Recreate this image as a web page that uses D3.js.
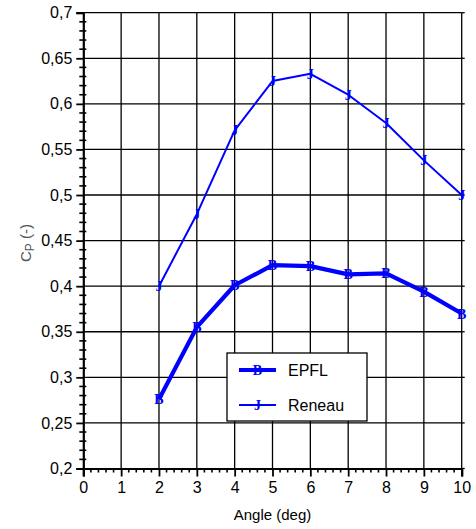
<!DOCTYPE html>
<html>
<head>
<meta charset="utf-8">
<script src="https://cdn.jsdelivr.net/npm/d3@7"></script>
<style>
  html, body { margin: 0; padding: 0; background: #fff; }
  svg { display: block; }
</style>
</head>
<body>
<svg id="chart" width="476" height="529"></svg>
<script>
// Power coefficient vs. blade angle for two test series
const angles = [2, 3, 4, 5, 6, 7, 8, 9, 10];
const epfl   = [0.276, 0.355, 0.401, 0.423, 0.422, 0.413, 0.414, 0.394, 0.370];
const reneau = [0.400, 0.479, 0.571, 0.625, 0.633, 0.610, 0.579, 0.538, 0.500];

const xTicks = [0, 1, 2, 3, 4, 5, 6, 7, 8, 9, 10];
const yTicks = [0.2, 0.25, 0.3, 0.35, 0.4, 0.45, 0.5, 0.55, 0.6, 0.65, 0.7];
const yTickLabels = ["0,2", "0,25", "0,3", "0,35", "0,4", "0,45", "0,5", "0,55", "0,6", "0,65", "0,7"];

const seriesNames = ["EPFL", "Reneau"];
const seriesMarks = ["B", "J"];

const svg = d3.select("#chart");
const blue = "#0000ff";
const font = "'Liberation Sans', Arial, sans-serif";
const markFont = "'Liberation Serif', 'Times New Roman', serif";

const x = d3.scaleLinear().domain([0, 10]).range([83.3, 461.7]);
const y = d3.scaleLinear().domain([0.2, 0.7]).range([468.5, 12.7]);

// grid
const grid = svg.append("g").attr("stroke", "#000").attr("stroke-width", 1.3);
grid.selectAll("line.v").data(xTicks.slice(1)).join("line")
  .attr("x1", d => x(d)).attr("x2", d => x(d))
  .attr("y1", y(0.2)).attr("y2", y(0.7));
grid.selectAll("line.h").data(yTicks.slice(1)).join("line")
  .attr("x1", x(0)).attr("x2", x(10))
  .attr("y1", d => y(d)).attr("y2", d => y(d));

// left axis: major ticks outward, minor ticks across the line
const yMinor = d3.range(20, 71).map(v => v / 100).filter(v => Math.round(v * 100) % 5 !== 0);
const yAxis = d3.axisLeft(y).tickValues(yTicks)
  .tickFormat((d, i) => yTickLabels[i]).tickSize(7).tickPadding(4);
const gy = svg.append("g").attr("transform", `translate(${x(0)},0)`).call(yAxis);
gy.select(".domain").attr("stroke-width", 2.2);
gy.selectAll(".tick line").attr("stroke-width", 1.8);
gy.selectAll("text").attr("font-family", font).attr("font-size", 16).attr("fill", "#000");
svg.append("g").attr("stroke", "#000").attr("stroke-width", 1.6)
  .selectAll("line").data(yMinor).join("line")
  .attr("x1", x(0) - 4).attr("x2", x(0) + 3)
  .attr("y1", d => y(d)).attr("y2", d => y(d));

// right side: short outward ticks at majors
svg.append("g").attr("stroke", "#000").attr("stroke-width", 1.3)
  .selectAll("line").data(yTicks).join("line")
  .attr("x1", x(10)).attr("x2", x(10) + 3)
  .attr("y1", d => y(d)).attr("y2", d => y(d));

// bottom axis
const xMinor = d3.range(0, 51).map(v => v / 5).filter(v => Math.abs(v - Math.round(v)) > 1e-6);
const xAxis = d3.axisBottom(x).tickValues(xTicks).tickFormat(d3.format("d"))
  .tickSize(8).tickPadding(5);
const gx = svg.append("g").attr("transform", `translate(0,${y(0.2)})`).call(xAxis);
gx.select(".domain").attr("stroke-width", 2.2);
gx.selectAll(".tick line").attr("stroke-width", 1.8);
gx.selectAll("text").attr("font-family", font).attr("font-size", 16).attr("fill", "#000");
svg.append("g").attr("stroke", "#000").attr("stroke-width", 1.6)
  .selectAll("line").data(xMinor).join("line")
  .attr("x1", d => x(d)).attr("x2", d => x(d))
  .attr("y1", y(0.2)).attr("y2", y(0.2) + 4);

// axis titles
svg.append("text")
  .attr("x", x(5)).attr("y", 520)
  .attr("text-anchor", "middle")
  .attr("font-family", font).attr("font-size", 15).attr("fill", "#000")
  .text("Angle (deg)");

const yTitle = svg.append("text")
  .attr("transform", "translate(31,243) rotate(-90)")
  .attr("text-anchor", "middle")
  .attr("font-family", font).attr("font-size", 15).attr("fill", "#555");
yTitle.append("tspan").text("C");
yTitle.append("tspan").attr("font-size", 12).attr("dy", 3).text("P");
yTitle.append("tspan").attr("dy", -3).text(" (-)");

// series
const line = d3.line().x((d, i) => x(angles[i])).y(d => y(d));
const series = [
  { name: seriesNames[0], mark: seriesMarks[0], values: epfl, width: 4.2 },
  { name: seriesNames[1], mark: seriesMarks[1], values: reneau, width: 2 }
];

series.forEach(s => {
  svg.append("path").datum(s.values)
    .attr("d", line).attr("fill", "none")
    .attr("stroke", blue).attr("stroke-width", s.width)
    .attr("stroke-linejoin", "round");
  svg.append("g").selectAll("text").data(s.values).join("text")
    .attr("x", (d, i) => x(angles[i])).attr("y", d => y(d) + 5)
    .attr("text-anchor", "middle")
    .attr("font-family", markFont).attr("font-weight", "bold")
    .attr("font-size", 14).attr("fill", blue)
    .text(s.mark);
});

// legend
const lg = svg.append("g").attr("transform", "translate(227,353)");
lg.append("rect").attr("x", 0).attr("y", 0).attr("width", 140).attr("height", 68)
  .attr("fill", "#fff").attr("stroke", "#000").attr("stroke-width", 1.3);
series.forEach((s, i) => {
  const cy = 17 + i * 35;
  lg.append("line").attr("x1", 12).attr("x2", 49).attr("y1", cy).attr("y2", cy)
    .attr("stroke", blue).attr("stroke-width", s.width);
  lg.append("text").attr("x", 30.5).attr("y", cy + 5).attr("text-anchor", "middle")
    .attr("font-family", markFont).attr("font-weight", "bold")
    .attr("font-size", 14).attr("fill", blue).text(s.mark);
  lg.append("text").attr("x", 61).attr("y", cy + 6)
    .attr("font-family", font).attr("font-size", 16).attr("fill", "#000")
    .text(s.name);
});
</script>
</body>
</html>
